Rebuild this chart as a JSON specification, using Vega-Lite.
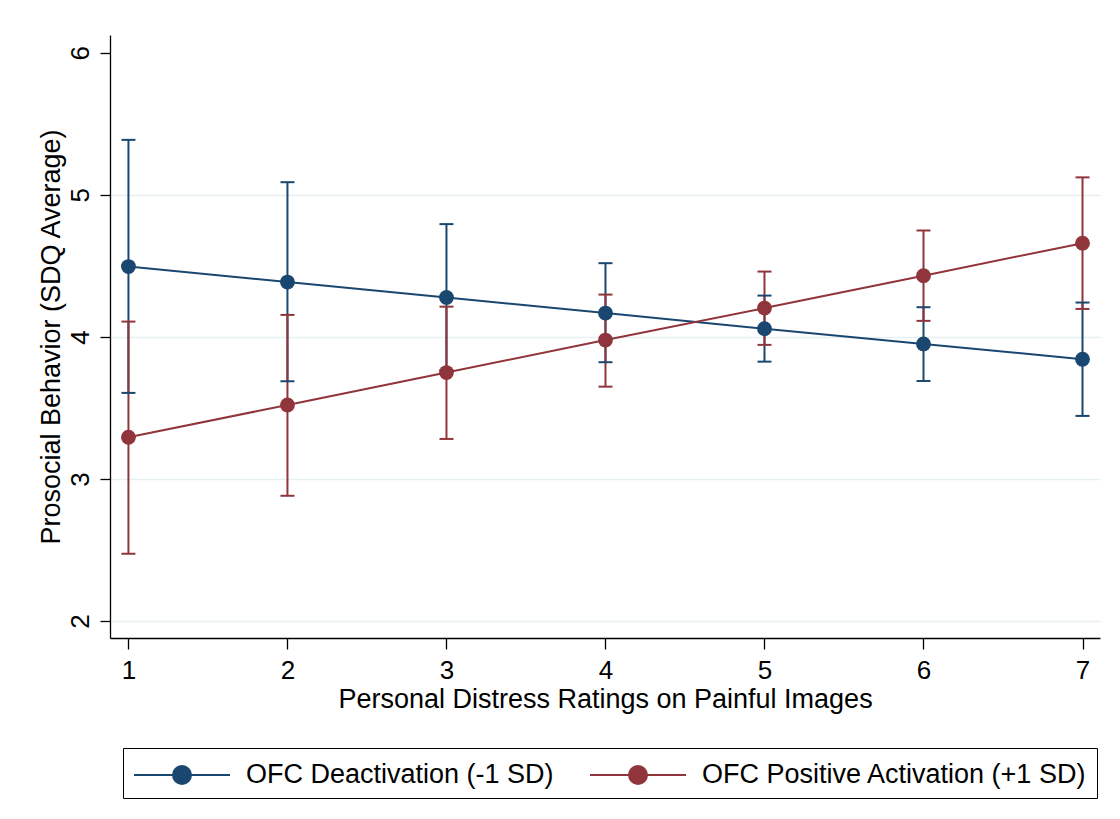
{
  "$schema": "https://vega.github.io/schema/vega-lite/v6.json",
  "width": 990,
  "height": 603,
  "autosize": {"type": "none"},
  "padding": {"left": 110, "top": 35, "right": 20, "bottom": 181},
  "background": "white",
  "config": {
    "view": {"stroke": null},
    "font": "Liberation Sans"
  },
  "data": {
    "values": [
      {"series": "OFC Deactivation (-1 SD)", "x": 1, "y": 4.495, "lo": 3.606, "hi": 5.387},
      {"series": "OFC Deactivation (-1 SD)", "x": 2, "y": 4.386, "lo": 3.688, "hi": 5.089},
      {"series": "OFC Deactivation (-1 SD)", "x": 3, "y": 4.278, "lo": 3.766, "hi": 4.794},
      {"series": "OFC Deactivation (-1 SD)", "x": 4, "y": 4.168, "lo": 3.822, "hi": 4.519},
      {"series": "OFC Deactivation (-1 SD)", "x": 5, "y": 4.058, "lo": 3.826, "hi": 4.291},
      {"series": "OFC Deactivation (-1 SD)", "x": 6, "y": 3.951, "lo": 3.69, "hi": 4.209},
      {"series": "OFC Deactivation (-1 SD)", "x": 7, "y": 3.843, "lo": 3.444, "hi": 4.242},
      {"series": "OFC Positive Activation (+1 SD)", "x": 1, "y": 3.294, "lo": 2.474, "hi": 4.108},
      {"series": "OFC Positive Activation (+1 SD)", "x": 2, "y": 3.521, "lo": 2.882, "hi": 4.155},
      {"series": "OFC Positive Activation (+1 SD)", "x": 3, "y": 3.749, "lo": 3.282, "hi": 4.213},
      {"series": "OFC Positive Activation (+1 SD)", "x": 4, "y": 3.978, "lo": 3.65, "hi": 4.298},
      {"series": "OFC Positive Activation (+1 SD)", "x": 5, "y": 4.203, "lo": 3.944, "hi": 4.46},
      {"series": "OFC Positive Activation (+1 SD)", "x": 6, "y": 4.431, "lo": 4.113, "hi": 4.749},
      {"series": "OFC Positive Activation (+1 SD)", "x": 7, "y": 4.66, "lo": 4.197, "hi": 5.123}
    ]
  },
  "encoding": {
    "color": {
      "field": "series", "type": "nominal",
      "scale": {"domain": ["OFC Deactivation (-1 SD)", "OFC Positive Activation (+1 SD)"], "range": ["#1a476f", "#90353b"]},
      "legend": {
        "orient": "none", "legendX": 13, "legendY": 713,
        "direction": "horizontal",
        "title": null,
        "strokeColor": "#000000",
        "padding": 10,
        "labelFontSize": 27, "labelColor": "#000000", "labelLimit": 1000,
        "labelOffset": 79, "columnPadding": 32,
        "symbolType": "M-1,0L5,0M2.5625,0A0.5625,0.5625,0,1,1,1.4375,0A0.5625,0.5625,0,1,1,2.5625,0Z",
        "symbolSize": 1024,
        "symbolStrokeWidth": 2,
        "symbolOpacity": 1,
        "encode": {
          "symbols": {
            "update": {
              "fill": {"scale": "color", "field": "value"},
              "stroke": {"scale": "color", "field": "value"},
              "strokeWidth": {"value": 2},
              "opacity": {"value": 1}
            }
          }
        }
      }
    }
  },
  "layer": [
    {
      "mark": {"type": "rule", "strokeWidth": 2, "opacity": 1},
      "encoding": {
        "x": {
          "field": "x", "type": "quantitative",
          "scale": {"domain": [0.884, 7.11], "nice": false, "zero": false},
          "axis": {
            "values": [1, 2, 3, 4, 5, 6, 7],
            "format": "d",
            "title": "Personal Distress Ratings on Painful Images",
            "grid": false,
            "domainColor": "#000000", "domainWidth": 1.3,
            "tickColor": "#000000", "tickWidth": 1.3, "tickSize": 11,
            "labelFontSize": 26, "labelColor": "#000000", "labelPadding": 8, "labelFlush": false,
            "titleFontSize": 27, "titleColor": "#000000", "titleFontWeight": "normal", "titlePadding": 3
          }
        },
        "y": {
          "field": "lo", "type": "quantitative",
          "scale": {"domain": [1.881, 6.125], "nice": false, "zero": false},
          "axis": {
            "values": [2, 3, 4, 5, 6],
            "format": "d",
            "title": "Prosocial Behavior (SDQ Average)",
            "grid": true,
            "gridColor": {"condition": {"test": "datum.value === 6", "value": "transparent"}, "value": "#e6eff1"},
            "gridWidth": 1.5,
            "domainColor": "#000000", "domainWidth": 1.3,
            "tickColor": "#000000", "tickWidth": 1.3, "tickSize": 10,
            "labelFontSize": 26, "labelColor": "#000000", "labelPadding": 12,
            "labelAngle": -90, "labelAlign": "center", "labelBaseline": "alphabetic", "labelFlush": false,
            "titleFontSize": 27, "titleColor": "#000000", "titleFontWeight": "normal", "titlePadding": 2
          }
        },
        "y2": {"field": "hi"}
      }
    },
    {
      "mark": {"type": "tick", "orient": "horizontal", "size": 14, "thickness": 2, "opacity": 1},
      "encoding": {
        "x": {"field": "x", "type": "quantitative"},
        "y": {"field": "lo", "type": "quantitative"}
      }
    },
    {
      "mark": {"type": "tick", "orient": "horizontal", "size": 14, "thickness": 2, "opacity": 1},
      "encoding": {
        "x": {"field": "x", "type": "quantitative"},
        "y": {"field": "hi", "type": "quantitative"}
      }
    },
    {
      "mark": {"type": "line", "strokeWidth": 2},
      "encoding": {
        "x": {"field": "x", "type": "quantitative"},
        "y": {"field": "y", "type": "quantitative"}
      }
    },
    {
      "mark": {"type": "point", "filled": true, "size": 220, "opacity": 1},
      "encoding": {
        "x": {"field": "x", "type": "quantitative"},
        "y": {"field": "y", "type": "quantitative"}
      }
    }
  ]
}
